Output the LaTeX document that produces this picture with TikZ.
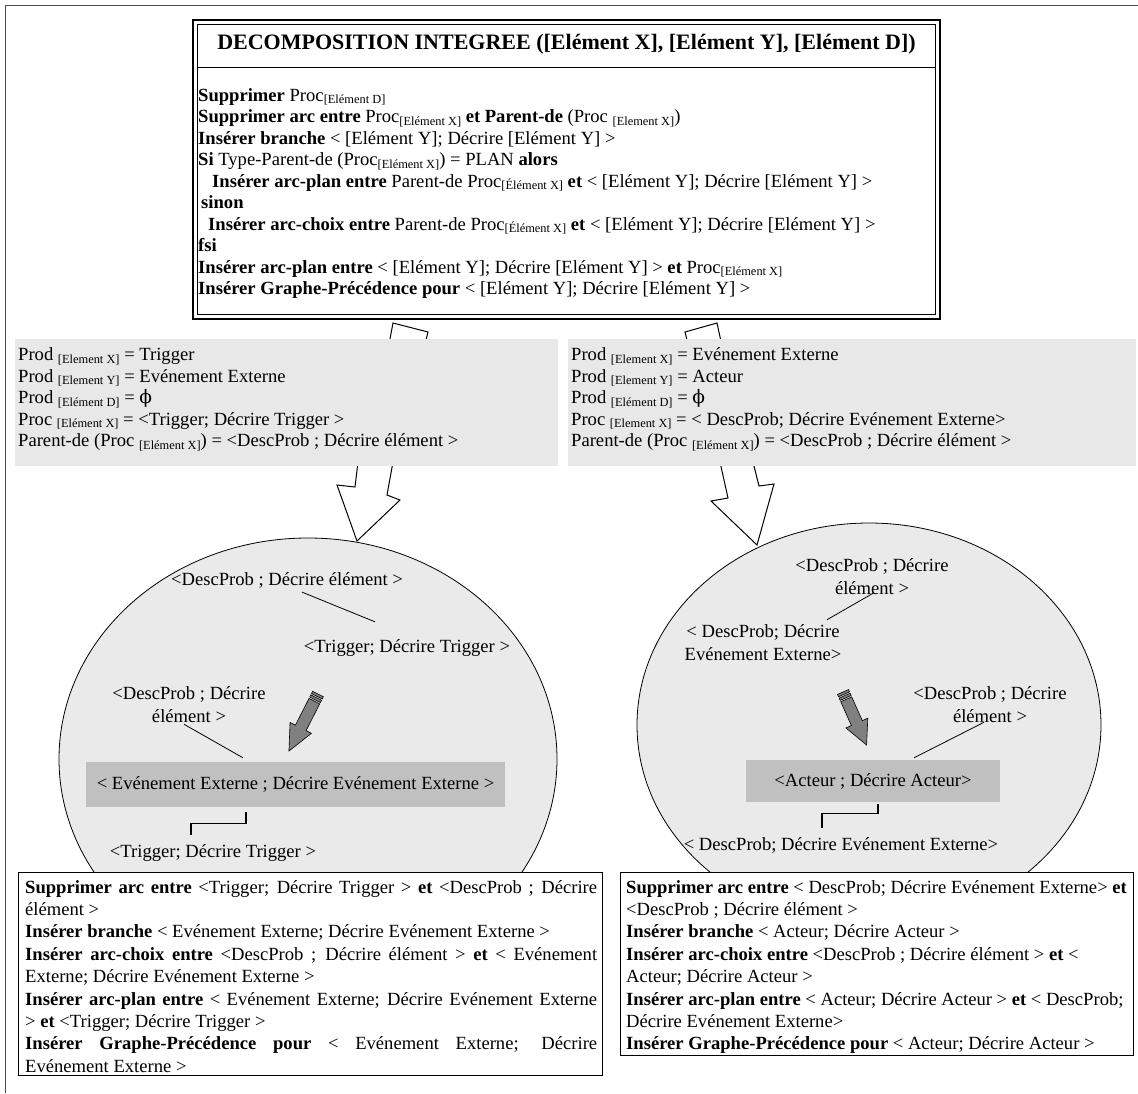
\documentclass[tikz,border=0pt]{standalone}
\usepackage{fontspec}
\setmainfont{Liberation Serif}
\newfontfamily\phifont{DejaVu Serif}
\usetikzlibrary{calc,shapes.geometric}
\definecolor{panelgray}{RGB}{232,232,232}
\definecolor{bubblegray}{RGB}{234,234,234}
\definecolor{focusgray}{RGB}{192,192,192}
\definecolor{pencilgray}{RGB}{128,128,128}
\newcommand{\Sb}[1]{\raisebox{-0.3ex}{\fontsize{12.4}{12.4}\selectfont #1}}
\newcommand{\nullprod}{{\phifont ϕ}}

\begin{document}
\begin{tikzpicture}[x=1pt,y=-1pt,
    every node/.style={font=\fontsize{18.6}{21.5}\selectfont},
    panel/.style={fill=panelgray,inner sep=0,anchor=north west},
    listing/.style={inner sep=0,anchor=north west,align=left},
    opbox/.style={draw,fill=white,line width=1,inner sep=0,anchor=north west},
    bubble/.style={ellipse,draw,fill=bubblegray,line width=0.8,inner sep=0},
    focus/.style={fill=focusgray,inner sep=0},
    tag/.style={align=center,inner sep=0,font=\fontsize{18.6}{23}\selectfont},
    bigarrow/.style={draw,fill=white,line width=1,line join=miter},
    link/.style={line width=0.8},
    elbow/.style={line width=1.2}]
  \useasboundingbox (0,0) rectangle (1138,1093);

  % page frame
  \draw[black!70,line width=1] (5,1093) -- (5,5) -- (1138,5);

  % the two cases (ellipses), behind everything else
  \node[bubble,minimum width=498,minimum height=442] (leftBubble) at (308,759) {};
  \node[bubble,minimum width=464,minimum height=404] (rightBubble) at (869,725) {};

  % big arrows, partly hidden by the panels
  \draw[bigarrow] (393,323) -- (386,360) -- (358,462) -- (355,487) -- (337,485)
    -- (357,541) -- (400,500) -- (387,495) -- (393,462) -- (421,360) -- (428,332) -- cycle;
  \draw[bigarrow] (685,332) -- (692,360) -- (720,462) -- (728,498) -- (711,501)
    -- (757,545) -- (774,484) -- (759,486) -- (753,462) -- (725,360) -- (717,323) -- cycle;

  % algorithm box (double border)
  \node[minimum width=747,minimum height=299,inner sep=0] (algo) at (566.5,169.5) {};
  \draw[line width=2.2] (algo.north west) rectangle (algo.south east);
  \draw[line width=0.8] ($(algo.north west)+(4.5,4.5)$) rectangle ($(algo.south east)+(-4.5,-4.5)$);
  \draw[line width=1.2] ($(algo.north west)+(4.5,48)$) -- ($(algo.north east)+(-4.5,48)$);
  \node[font=\fontsize{22}{24}\selectfont\bfseries] (algoTitle) at (566.5,44)
    {DECOMPOSITION INTEGREE ([Elément X], [Elément Y], [Elément D])};
  \node[listing] (algoBody) at (198,88) {%
    \textbf{Supprimer} Proc\Sb{[Elément D]}\\
    \textbf{Supprimer arc entre} Proc\Sb{[Elément X]} \textbf{et Parent-de} (Proc \Sb{[Element X]})\\
    \textbf{Insérer branche} < [Elément Y]; Décrire [Elément Y] >\\
    \textbf{Si} Type-Parent-de (Proc\Sb{[Elément X]}) = PLAN \textbf{alors}\\
    \hspace*{14pt}\textbf{Insérer arc-plan entre} Parent-de Proc\Sb{[Élément X]} \textbf{et} < [Elément Y]; Décrire [Elément Y] >\\
    \hspace*{3pt}\textbf{sinon}\\
    \hspace*{10pt}\textbf{Insérer arc-choix entre} Parent-de Proc\Sb{[Élément X]} \textbf{et} < [Elément Y]; Décrire [Elément Y] >\\
    \textbf{fsi}\\
    \textbf{Insérer arc-plan entre} < [Elément Y]; Décrire [Elément Y] > \textbf{et} Proc\Sb{[Elément X]}\\
    \textbf{Insérer Graphe-Précédence pour} < [Elément Y]; Décrire [Elément Y] >};

  % bindings for each case
  \node[panel,minimum width=543,minimum height=127] (caseL) at (15,339) {};
  \node[listing] (caseLtext) at ($(caseL.north west)+(3,8.5)$) {%
    Prod \Sb{[Element X]} = Trigger\\
    Prod \Sb{[Element Y]} = Evénement Externe\\
    Prod \Sb{[Elément D]} = \nullprod\\
    Proc \Sb{[Elément X]} = <Trigger; Décrire Trigger >\\
    Parent-de (Proc \Sb{[Elément X]}) = <DescProb ; Décrire élément >};
  \node[panel,minimum width=568,minimum height=127] (caseR) at (568,339) {};
  \node[listing] (caseRtext) at ($(caseR.north west)+(3,8.5)$) {%
    Prod \Sb{[Element X]} = Evénement Externe\\
    Prod \Sb{[Element Y]} = Acteur\\
    Prod \Sb{[Elément D]} = \nullprod\\
    Proc \Sb{[Element X]} = < DescProb; Décrire Evénement Externe>\\
    Parent-de (Proc \Sb{[Elément X]}) = <DescProb ; Décrire élément >};

  % left case: tree fragment
  \node[tag] (leftTop) at (287,580) {<DescProb ; Décrire élément >};
  \node[tag] (leftMid) at (407,648) {<Trigger; Décrire Trigger >};
  \node[tag] (leftSide) at (189,705) {<DescProb ; Décrire\\élément >};
  \node[focus,minimum width=419,minimum height=45] (leftFocus) at (295.5,784.5)
    {< Evénement Externe ; Décrire Evénement Externe >};
  \node[tag] (leftBottom) at (213,853) {<Trigger; Décrire Trigger >};
  \draw[link] ($(leftTop.south)+(15,4)$) -- ($(leftMid.north)+(-32,-17.5)$);
  \draw[link] ($(leftSide.south)+(-5,1)$) -- ($(leftFocus.north)+(-52.5,-4)$);
  \draw[elbow] ($(leftFocus.south)+(-49.5,5)$) -- ++(0,11) -| ($(leftBottom.north)+(-22,-9)$);
  \begin{scope}[shift={(318,694)},rotate=-117]
    \draw[fill=pencilgray,line width=0.6] (0,-6) rectangle (2.5,6) (4,-6) rectangle (6.5,6);
    \draw[fill=pencilgray,line width=0.6] (8,-6) -- (38,-6) -- (38,-12) -- (64,0)
      -- (38,12) -- (38,6) -- (8,6) -- cycle;
  \end{scope}

  % right case: tree fragment
  \node[tag] (rightTop) at (872,577) {<DescProb ; Décrire\\élément >};
  \node[tag] (rightLeft) at (763,643) {< DescProb; Décrire\\Evénement Externe>};
  \node[tag] (rightSide) at (990,705) {<DescProb ; Décrire\\élément >};
  \node[focus,minimum width=254,minimum height=42] (rightFocus) at (873,781) {<Acteur ; Décrire Acteur>};
  \node[tag] (rightBottom) at (841,845) {< DescProb; Décrire Evénement Externe>};
  \draw[link] ($(rightTop.south)+(1,-2)$) -- ($(rightLeft.north)+(64,-5)$);
  \draw[link] ($(rightSide.south)+(-6,-1)$) -- ($(rightFocus.north)+(41,-2)$);
  \draw[elbow] ($(rightFocus.south)+(5,2)$) -- ++(0,9) -| ($(rightBottom.north)+(-19,-9)$);
  \begin{scope}[shift={(843,692)},rotate=-66]
    \draw[fill=pencilgray,line width=0.6] (0,-6) rectangle (2.5,6) (4,-6) rectangle (6.5,6);
    \draw[fill=pencilgray,line width=0.6] (8,-6) -- (34,-6) -- (34,-12) -- (58,0)
      -- (34,12) -- (34,6) -- (8,6) -- cycle;
  \end{scope}

  % resulting operations
  \node[opbox,minimum width=584,minimum height=203] (opsL) at (18,872) {};
  \node[listing,font=\fontsize{18.6}{22.4}\selectfont] (opsLtext) at ($(opsL.north west)+(7,8)$) {%
    \makebox[572pt][s]{\textbf{Supprimer arc entre} <Trigger; Décrire Trigger > \textbf{et} <DescProb ; Décrire}\\
    élément >\\
    \textbf{Insérer branche} < Evénement Externe; Décrire Evénement Externe >\\
    \makebox[572pt][s]{\textbf{Insérer arc-choix entre} <DescProb ; Décrire élément > \textbf{et} < Evénement}\\
    Externe; Décrire Evénement Externe >\\
    \makebox[572pt][s]{\textbf{Insérer arc-plan entre} < Evénement Externe; Décrire Evénement Externe}\\
    > \textbf{et} <Trigger; Décrire Trigger >\\
    \makebox[572pt][s]{\textbf{Insérer Graphe-Précédence pour} < Evénement Externe; Décrire}\\
    Evénement Externe >};
  \node[opbox,minimum width=513,minimum height=183] (opsR) at (620,872) {};
  \node[listing,font=\fontsize{18.6}{22.4}\selectfont] (opsRtext) at ($(opsR.north west)+(6,8)$) {%
    \textbf{Supprimer arc entre} < DescProb; Décrire Evénement Externe> \textbf{et}\\
    <DescProb ; Décrire élément >\\
    \textbf{Insérer branche} < Acteur; Décrire Acteur >\\
    \textbf{Insérer arc-choix entre} <DescProb ; Décrire élément > \textbf{et} <\\
    Acteur; Décrire Acteur >\\
    \textbf{Insérer arc-plan entre} < Acteur; Décrire Acteur > \textbf{et} < DescProb;\\
    Décrire Evénement Externe>\\
    \textbf{Insérer Graphe-Précédence pour} < Acteur; Décrire Acteur >};
\end{tikzpicture}
\end{document}
